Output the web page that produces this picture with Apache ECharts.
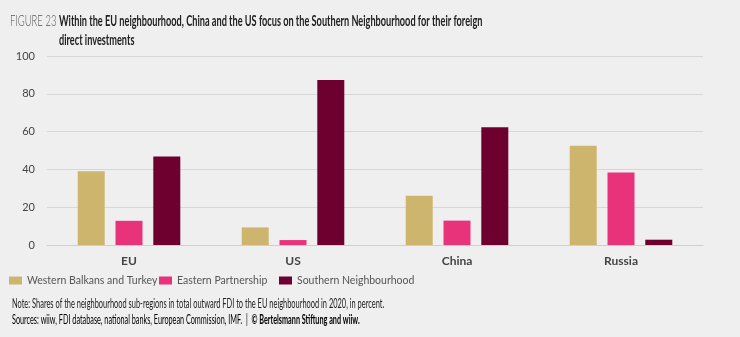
<!DOCTYPE html>
<html><head><meta charset="utf-8">
<script src="https://cdn.jsdelivr.net/npm/echarts@6/dist/echarts.min.js"></script>
<style>html,body{margin:0;padding:0;background:#efefef}#c{width:740px;height:337px}</style>
</head><body><div id="c"></div>
<script>
var categories = ['EU', 'US', 'China', 'Russia'];
var seriesNames = ['Western Balkans and Turkey', 'Eastern Partnership', 'Southern Neighbourhood'];
var westernBalkans = [39, 9.3, 26, 52.5];
var easternPartnership = [12.8, 2.6, 12.9, 38.3];
var southernNeighbourhood = [46.8, 87.3, 62.3, 2.8];
var yTicks = [0, 20, 40, 60, 80, 100];
var colors = ['#cdb56e', '#e8327a', '#6e0030'];
var F = "Lato, sans-serif";

var chart = echarts.init(document.getElementById('c'), null, {renderer: 'canvas'});
var values = [westernBalkans, easternPartnership, southernNeighbourhood];
var series = seriesNames.map(function (n, i) {
  return {name: n, type: 'bar', data: values[i], barWidth: 27, barGap: '40%',
    itemStyle: {color: colors[i]}};
});
var legends = seriesNames.map(function (n, i) {
  return {data: [n], left: [9, 159, 279][i], top: 275, itemWidth: 13, itemHeight: 8, itemGap: 5,
    icon: 'rect', textStyle: {fontFamily: F, fontSize: 10.5, color: '#555'}, padding: 0};
});
function txt(x, y, sx, text, font, fill) {
  return {type: 'text', x: x, y: y, scaleX: sx, scaleY: 1.05, originX: 0, originY: 0,
    style: {x: 0, y: 0, text: text, font: font, fill: fill, verticalAlign: 'middle', align: 'left'}};
}
chart.setOption({
  backgroundColor: '#efefef',
  animation: false,
  grid: {left: 47, right: 37, top: 56, bottom: 92},
  legend: legends,
  xAxis: {type: 'category', data: categories,
    axisLine: {lineStyle: {color: '#cfcfcf', width: 1}},
    axisTick: {inside: true, length: 4, lineStyle: {color: '#cfcfcf'}},
    axisLabel: {fontFamily: F, fontSize: 12, fontWeight: 'bold', color: '#444', margin: 10}},
  yAxis: {type: 'value', min: yTicks[0], max: yTicks[yTicks.length - 1], interval: yTicks[1] - yTicks[0],
    axisLine: {show: false}, axisTick: {show: false},
    splitLine: {lineStyle: {color: '#d7d7d7', width: 1}},
    axisLabel: {fontFamily: F, fontSize: 11, color: '#444', margin: 12}},
  series: series,
  graphic: [
    txt(10, 21, 0.63, 'FIGURE 23', "300 15px " + F, '#555'),
    txt(59, 21, 0.612, 'Within the EU neighbourhood, China and the US focus on the Southern Neighbourhood for their foreign', "bold 15px " + F, '#222'),
    txt(59, 40, 0.612, 'direct investments', "bold 15px " + F, '#222'),
    txt(12, 304, 0.62, 'Note: Shares of the neighbourhood sub-regions in total outward FDI to the EU neighbourhood in 2020, in percent.', "12px " + F, '#222'),
    {type: 'text', x: 12, y: 320, scaleX: 0.605, scaleY: 1.05, originX: 0, originY: 0, style: {x: 0, y: 0, verticalAlign: 'middle',
      rich: {a: {fontFamily: F, fontSize: 12, color: '#222'}, b: {fontFamily: F, fontSize: 12, fontWeight: 'bold', color: '#222'}},
      text: '{a|Sources: wiiw, FDI database, national banks, European Commission, IMF.  |  }{b|© Bertelsmann Stiftung and wiiw.}'}}
  ]
});
</script></body></html>
